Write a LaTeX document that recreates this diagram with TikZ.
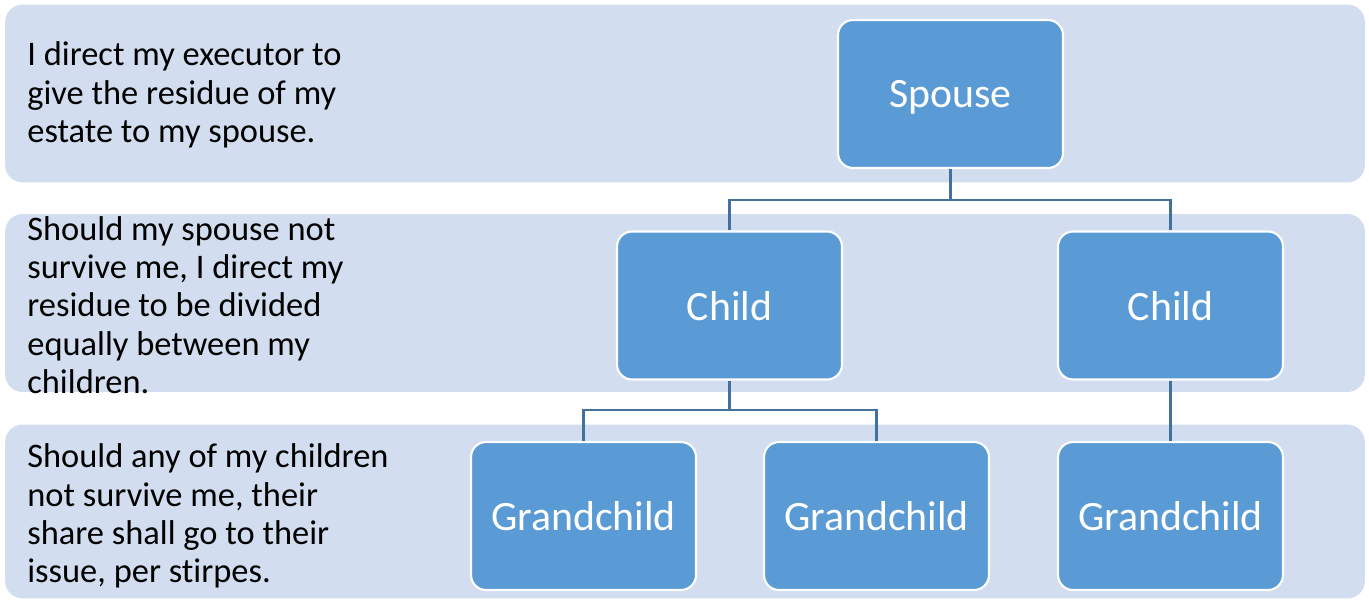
\documentclass[tikz,border=0pt]{standalone}
\usepackage{fontspec}
\setmainfont{Carlito}[Ligatures=NoCommon]
\usetikzlibrary{calc, positioning}
\usepackage{xcolor}
\definecolor{bandfill}{HTML}{D2DEEF}
\definecolor{boxfill}{HTML}{5B9BD5}
\definecolor{linkcol}{HTML}{41719C}

\begin{document}
\begin{tikzpicture}[x=0.02cm, y=-0.02cm]
				\tikzstyle{band} = [fill=bandfill, draw=none, rounded corners=0.35cm, minimum width=27.2cm, minimum height=3.56cm, inner sep=0pt]
				\tikzstyle{note} = [draw=none, anchor=west, align=left, inner sep=0pt, font=\fontsize{19.6}{21.8}\selectfont]
				\tikzstyle{member} = [fill=boxfill, draw=white, line width=1.2pt, rounded corners=0.3cm, minimum width=4.5cm, minimum height=2.96cm, text depth=0pt, text=white, font=\fontsize{23.8}{28}\selectfont]
				\tikzstyle{link} = [draw=linkcol, line width=1.4pt]
				
				\useasboundingbox (0,0) rectangle (1369,600);
				
				% bands
				\node[band]				at (685, 93.5)		(rowA)	{};
				\node[band]				at (685, 303)		(rowB)	{};
				\node[band, minimum height=3.48cm] at (685, 511.5) (rowC) {};
				
				\node[note]				at (27, 95)		(noteA)	{I direct my executor to\\give the residue of my\\estate to my spouse.};
				\node[note]				at (27, 305)		(noteB)	{Should my spouse not\\survive me, I direct my\\residue to be divided\\equally between my\\children.};
				\node[note]				at (27, 516)		(noteC)	{Should any of my children\\not survive me, their\\share shall go to their\\issue, per stirpes.};
				
				% family tree
				\node[member]			at (950.5, 94)		(spouse)	{Spouse};
				\node[member]			at (729.5, 305.5)	(childA)	{Child};
				\node[member]			at (1170.5, 305.5)	(childB)	{Child};
				\node[member]			at (583.5, 516)	(grandA)	{Grandchild};
				\node[member]			at (876.5, 516)	(grandB)	{Grandchild};
				\node[member]			at (1170.5, 516)	(grandC)	{Grandchild};
				
				\coordinate (busA) at (950.5, 200);
				\coordinate (busB) at (729.5, 410);
				
				\draw[link] (spouse.south) -- (busA);
				\draw[link] (childA.north) |- (busA) -| (childB.north);
				\draw[link] (childA.south) -- (busB);
				\draw[link] (grandA.north) |- (busB) -| (grandB.north);
				\draw[link] (childB.south) -- (grandC.north);
			\end{tikzpicture}
\end{document}
